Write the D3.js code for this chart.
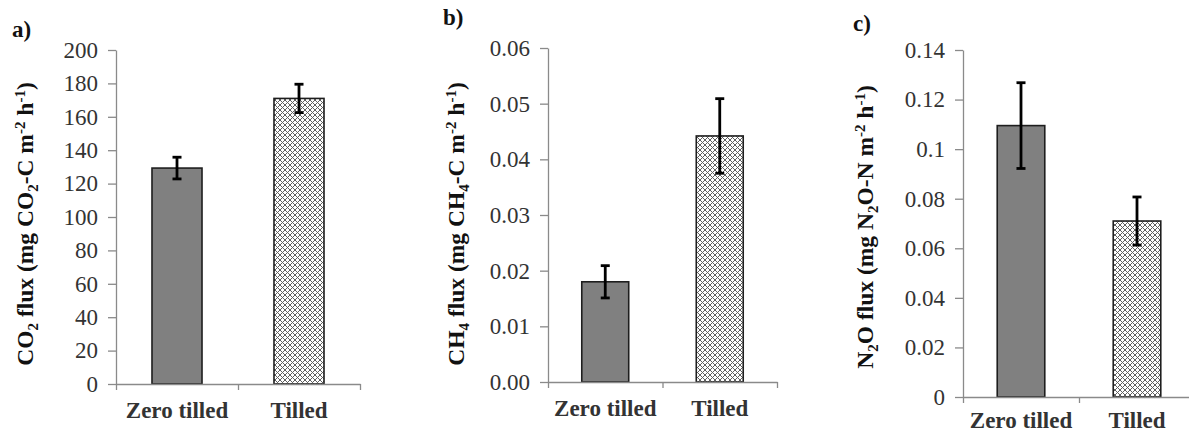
<!DOCTYPE html>
<html>
<head>
<meta charset="utf-8">
<script src="https://cdn.jsdelivr.net/npm/d3@7"></script>
<style>
  body { margin: 0; background: #fff; }
  svg { display: block; }
  .axis path, .axis line { stroke: #8a8a8a; stroke-width: 1.3; }
  .axis text { font-family: "Liberation Serif", "Times New Roman", serif; fill: #333; }
</style>
</head>
<body>
<script>
var w = 1189;
var h = 432;

//categories and values
var categories = ["Zero tilled", "Tilled"];

var co2Means = [129.3, 171];
var co2Errors = [6.5, 8.5];
var co2Ticks = [0, 20, 40, 60, 80, 100, 120, 140, 160, 180, 200];

var ch4Means = [0.018, 0.0442];
var ch4Errors = [0.0029, 0.0067];
var ch4Ticks = ["0.00", "0.01", "0.02", "0.03", "0.04", "0.05", "0.06"];

var n2oMeans = [0.1095, 0.071];
var n2oErrors = [0.0173, 0.0097];
var n2oTicks = ["0", "0.02", "0.04", "0.06", "0.08", "0.1", "0.12", "0.14"];

var fills = ["#808080", "url(#hatch)"];

//title pieces: [text, "sub" | "sup" | ""]
var co2Title = [["CO", ""], ["2", "sub"], [" flux (mg CO", ""], ["2", "sub"], ["-C m", ""], ["-2", "sup"], [" h", ""], ["-1", "sup"], [")", ""]];
var ch4Title = [["CH", ""], ["4", "sub"], [" flux (mg CH", ""], ["4", "sub"], ["-C m", ""], ["-2", "sup"], [" h", ""], ["-1", "sup"], [")", ""]];
var n2oTitle = [["N", ""], ["2", "sub"], ["O flux (mg N", ""], ["2", "sub"], ["O-N m", ""], ["-2", "sup"], [" h", ""], ["-1", "sup"], [")", ""]];

var panels = [
    { tag: "a)", tagX: 12, tagY: 37, left: 116, right: 360, top: 50, bottom: 384, max: 200,
      means: co2Means, errors: co2Errors, ticks: co2Ticks, title: co2Title, titleX: 33, titleY: 224, labelY: 418 },
    { tag: "b)", tagX: 443, tagY: 25, left: 548, right: 777, top: 48, bottom: 382, max: 0.06,
      means: ch4Means, errors: ch4Errors, ticks: ch4Ticks, title: ch4Title, titleX: 464, titleY: 224, labelY: 416 },
    { tag: "c)", tagX: 853, tagY: 31, left: 963, right: 1195, top: 50, bottom: 397, max: 0.14,
      means: n2oMeans, errors: n2oErrors, ticks: n2oTicks, title: n2oTitle, titleX: 873, titleY: 227, labelY: 428 }
];

var svg = d3.select("body")
    .append("svg")
    .attr("width", w)
    .attr("height", h);

//cross hatch for the tilled bars
var pat = svg.append("defs").append("pattern")
    .attr("id", "hatch")
    .attr("patternUnits", "userSpaceOnUse")
    .attr("width", 5)
    .attr("height", 5);
pat.append("rect").attr("width", 5).attr("height", 5).attr("fill", "#fff");
pat.append("path").attr("d", "M0,0L5,5M5,0L0,5").attr("stroke", "#606060").attr("stroke-width", 1);

panels.forEach(function (p) {
    var g = svg.append("g");

    var yScale = d3.scaleLinear()
        .domain([0, p.max])
        .range([p.bottom, p.top]);

    var xScale = d3.scaleBand()
        .domain(categories)
        .range([p.left, p.right])
        .paddingInner(0.59)
        .paddingOuter(0.295);

    var edges = d3.scaleLinear().domain([0, categories.length]).range([p.left, p.right]);

    var yaxis = d3.axisLeft()
        .scale(yScale)
        .tickValues(p.ticks.map(Number))
        .tickFormat(function (d, i) { return p.ticks[i]; })
        .tickSize(8)
        .tickSizeOuter(0)
        .tickPadding(10);

    var ya = g.append("g")
        .attr("class", "axis")
        .attr("transform", "translate(" + p.left + ",0)")
        .call(yaxis);
    ya.selectAll("text").attr("font-size", "23px");

    //bars
    g.selectAll("rect.bar")
        .data(p.means)
        .enter()
        .append("rect")
        .attr("class", "bar")
        .attr("x", function (d, i) { return xScale(categories[i]); })
        .attr("width", xScale.bandwidth())
        .attr("y", function (d) { return yScale(d); })
        .attr("height", function (d) { return p.bottom - yScale(d); })
        .attr("fill", function (d, i) { return fills[i]; })
        .attr("stroke", "#1e1e1e")
        .attr("stroke-width", 1.6);

    //x axis: ticks on category edges
    g.append("g")
        .attr("class", "axis")
        .attr("transform", "translate(0," + p.bottom + ")")
        .call(d3.axisBottom(edges).tickValues(d3.range(categories.length + 1)).tickFormat("").tickSize(6).tickSizeOuter(0));

    //x labels
    var xl = g.append("g")
        .attr("class", "axis")
        .attr("transform", "translate(0," + p.bottom + ")")
        .call(d3.axisBottom(xScale).tickSize(0).tickPadding(0));
    xl.select(".domain").remove();
    xl.selectAll("text")
        .attr("y", p.labelY - p.bottom)
        .attr("dy", 0)
        .attr("font-size", "23px")
        .attr("font-weight", "bold")
        .attr("fill", "#111");

    //error bars
    var eb = g.selectAll("g.err")
        .data(p.means)
        .enter()
        .append("g")
        .attr("class", "err")
        .attr("stroke", "#000")
        .attr("stroke-width", 2.8);
    eb.append("line")
        .attr("x1", function (d, i) { return xScale(categories[i]) + xScale.bandwidth() / 2; })
        .attr("x2", function (d, i) { return xScale(categories[i]) + xScale.bandwidth() / 2; })
        .attr("y1", function (d, i) { return yScale(d + p.errors[i]); })
        .attr("y2", function (d, i) { return yScale(d - p.errors[i]); });
    [1, -1].forEach(function (s) {
        eb.append("line")
            .attr("x1", function (d, i) { return xScale(categories[i]) + xScale.bandwidth() / 2 - 4.5; })
            .attr("x2", function (d, i) { return xScale(categories[i]) + xScale.bandwidth() / 2 + 4.5; })
            .attr("y1", function (d, i) { return yScale(d + s * p.errors[i]); })
            .attr("y2", function (d, i) { return yScale(d + s * p.errors[i]); });
    });

    //y title, baseline on its right side
    var t = g.append("text")
        .attr("transform", "translate(" + p.titleX + "," + p.titleY + ") rotate(-90)")
        .attr("text-anchor", "middle")
        .attr("font-family", "'Liberation Serif', 'Times New Roman', serif")
        .attr("font-weight", "bold")
        .attr("font-size", "23.5px")
        .attr("fill", "#111");
    var shift = 0;
    p.title.forEach(function (piece) {
        var want = piece[1] === "sub" ? 5 : piece[1] === "sup" ? -8 : 0;
        t.append("tspan")
            .attr("dy", want - shift)
            .attr("font-size", piece[1] ? "15px" : null)
            .text(piece[0]);
        shift = want;
    });

    //panel tag
    g.append("text")
        .attr("x", p.tagX)
        .attr("y", p.tagY)
        .attr("font-family", "'Liberation Serif', 'Times New Roman', serif")
        .attr("font-weight", "bold")
        .attr("font-size", "23px")
        .attr("fill", "#111")
        .text(p.tag);
});
</script>
</body>
</html>
